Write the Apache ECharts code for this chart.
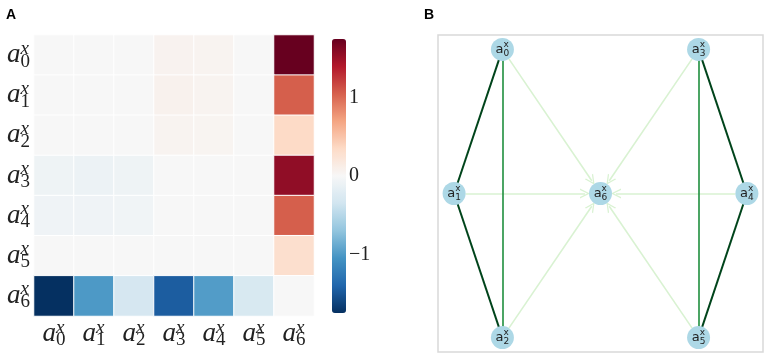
<!DOCTYPE html>
<html>
<head>
<meta charset="utf-8">
<script src="https://cdn.jsdelivr.net/npm/echarts@6/dist/echarts.min.js"></script>
<style>
  html, body { margin: 0; padding: 0; background: #fff; }
  #main { width: 765px; height: 354px; }
</style>
</head>
<body>
<div id="main"></div>
<script>
// heatmap: rows / cols are a_0^x .. a_6^x
var varIdx = ['0', '1', '2', '3', '4', '5', '6'];
var matrix = [
  [0, 0, 0, 0.06, 0.05, 0, 1.74],
  [0, 0, 0, 0.07, 0.05, 0, 1.05],
  [0, 0, 0, 0.05, 0.04, 0, 0.35],
  [-0.08, -0.1, -0.08, 0, 0, 0, 1.55],
  [-0.07, -0.07, -0.06, 0, 0, 0, 1.05],
  [0, 0, 0, 0, 0, 0, 0.3],
  [-1.74, -1.0, -0.3, -1.45, -0.98, -0.28, 0]
];
var cbarMin = -1.74, cbarMax = 1.74;
var cbarTicks = [-1, 0, 1];
var rdbu = ['#053061', '#2166ac', '#4393c3', '#92c5de', '#d1e5f0', '#f7f7f7',
            '#fddbc7', '#f4a582', '#d6604d', '#b2182b', '#67001f'];

// graph panel
var nodeNames = ['a0', 'a1', 'a2', 'a3', 'a4', 'a5', 'a6'];
var nodeX = [-0.67, -1, -0.67, 0.67, 1, 0.67, 0];
var nodeY = [1, 0, -1, 1, 0, -1, 0];
var edgeSrc = [0, 1, 0, 3, 4, 3, 0, 1, 2, 3, 4, 5];
var edgeTgt = [1, 2, 2, 4, 5, 5, 6, 6, 6, 6, 6, 6];
var edgeW   = [1, 1, 0.7, 1, 1, 0.7, 0.1, 0.1, 0.1, 0.1, 0.1, 0.1];
var nodeSize = 23;

function edgeColor(w) {
  if (w > 0.9) return '#00441b';
  if (w > 0.5) return '#1f8f3e';
  return '#d9f2d2';
}

var heatData = [];
matrix.forEach(function (row, r) {
  row.forEach(function (v, c) { heatData.push([c, r, v]); });
});

var mathRich = {
  a: { fontFamily: 'Liberation Serif', fontStyle: 'italic', fontSize: 27, color: '#222', lineHeight: 32, align: 'left', verticalAlign: 'middle' },
  p: { fontFamily: 'Liberation Serif', fontStyle: 'italic', fontSize: 19, color: '#222', width: 0, align: 'left', verticalAlign: 'top', lineHeight: 32 },
  b: { fontFamily: 'Liberation Serif', fontSize: 19, color: '#222', align: 'left', verticalAlign: 'bottom', lineHeight: 32 }
};
function mathLabel(d) { return '{a|a}{p|x}{b|' + d + '}'; }

var nodeRich = {
  a: { fontFamily: 'DejaVu Sans', fontSize: 13, color: '#222', lineHeight: 18, align: 'left', verticalAlign: 'middle' },
  p: { fontFamily: 'DejaVu Sans', fontSize: 9, color: '#222', width: 0, align: 'left', verticalAlign: 'top', lineHeight: 18 },
  b: { fontFamily: 'DejaVu Sans', fontSize: 9, color: '#222', align: 'left', verticalAlign: 'bottom', lineHeight: 18 }
};

var chevron = 'path://M5,0 L10,10 L8.6,10 L5,2.8 L1.4,10 L0,10 Z';

var chart = echarts.init(document.getElementById('main'));
var option = {
  animation: false,
  title: [
    { text: 'A', left: 1, top: 3, textStyle: { fontFamily: 'Liberation Sans', fontWeight: 'bold', fontSize: 14, color: '#000' } },
    { text: 'B', left: 419, top: 3, textStyle: { fontFamily: 'Liberation Sans', fontWeight: 'bold', fontSize: 14, color: '#000' } }
  ],
  grid: [
    { left: 34, top: 35, width: 280, height: 281 },
    { left: 438, top: 35, width: 325, height: 317, show: true, borderColor: '#d9d9d9', borderWidth: 1.5 },
    { left: 332, top: 39, width: 14, height: 274 }
  ],
  xAxis: [
    { type: 'category', gridIndex: 0, data: varIdx, axisLine: { show: false }, axisTick: { show: false },
      axisLabel: { interval: 0, margin: 2, formatter: mathLabel, rich: mathRich } },
    { type: 'value', gridIndex: 1, min: -1.11, max: 1.11, show: false },
    { type: 'value', gridIndex: 2, show: false }
  ],
  yAxis: [
    { type: 'category', gridIndex: 0, data: varIdx, inverse: true, axisLine: { show: false }, axisTick: { show: false },
      axisLabel: { interval: 0, margin: 4, formatter: mathLabel, rich: mathRich } },
    { type: 'value', gridIndex: 1, min: -1.1, max: 1.1, show: false },
    { type: 'value', gridIndex: 2, position: 'right', min: cbarMin, max: cbarMax,
      axisLine: { show: false }, splitLine: { show: false },
      axisTick: { show: true, length: 3, customValues: cbarTicks, lineStyle: { color: '#333' } },
      axisLabel: { margin: 3, customValues: cbarTicks, fontFamily: 'Liberation Serif', fontSize: 20, color: '#222',
        formatter: function (v) { return v < 0 ? '\u2212' + Math.abs(v) : String(v); } } }
  ],
  visualMap: {
    type: 'continuous', seriesIndex: 0, min: cbarMin, max: cbarMax, calculable: false,
    left: 332, top: 39, itemWidth: 14, itemHeight: 274, padding: 0, text: null,
    inRange: { color: rdbu }
  },
  series: [
    {
      type: 'heatmap', xAxisIndex: 0, yAxisIndex: 0, data: heatData,
      itemStyle: { borderColor: '#fff', borderWidth: 1 }
    },
    {
      type: 'graph', coordinateSystem: 'cartesian2d', xAxisIndex: 1, yAxisIndex: 1, z: 3,
      symbol: 'circle', symbolSize: nodeSize,
      itemStyle: { color: '#add8e6' },
      label: { show: true, position: 'inside', formatter: function (p) { return mathLabel(p.name.slice(1)); }, rich: nodeRich },
      data: nodeNames.map(function (n, i) { return { name: n, value: [nodeX[i], nodeY[i]] }; }),
      links: []
    },
    {
      type: 'lines', coordinateSystem: 'cartesian2d', xAxisIndex: 1, yAxisIndex: 1, z: 2,
      symbol: ['none', chevron], symbolSize: 10,
      data: []
    }
  ]
};
chart.setOption(option);

// edges: undirected ones as graph links, arrows to the hub trimmed to the node border
var links = [], arrows = [];
edgeSrc.forEach(function (s, i) {
  var t = edgeTgt[i];
  var style = { color: edgeColor(edgeW[i]), width: edgeW[i] > 0.9 ? 2 : 1.6, opacity: 1 };
  if (t !== 6) {
    links.push({ source: nodeNames[s], target: nodeNames[t], lineStyle: style });
  } else {
    var p0 = chart.convertToPixel({ gridIndex: 1 }, [nodeX[s], nodeY[s]]);
    var p1 = chart.convertToPixel({ gridIndex: 1 }, [nodeX[t], nodeY[t]]);
    var dx = p1[0] - p0[0], dy = p1[1] - p0[1];
    var len = Math.sqrt(dx * dx + dy * dy);
    var r = nodeSize / 2;
    var a = [p0[0] + dx / len * r, p0[1] + dy / len * r];
    var b = [p1[0] - dx / len * (r + 4), p1[1] - dy / len * (r + 4)];
    arrows.push({
      coords: [chart.convertFromPixel({ gridIndex: 1 }, a), chart.convertFromPixel({ gridIndex: 1 }, b)],
      lineStyle: style
    });
  }
});
chart.setOption({ series: [{}, { links: links }, { data: arrows }] });
</script>
</body>
</html>
